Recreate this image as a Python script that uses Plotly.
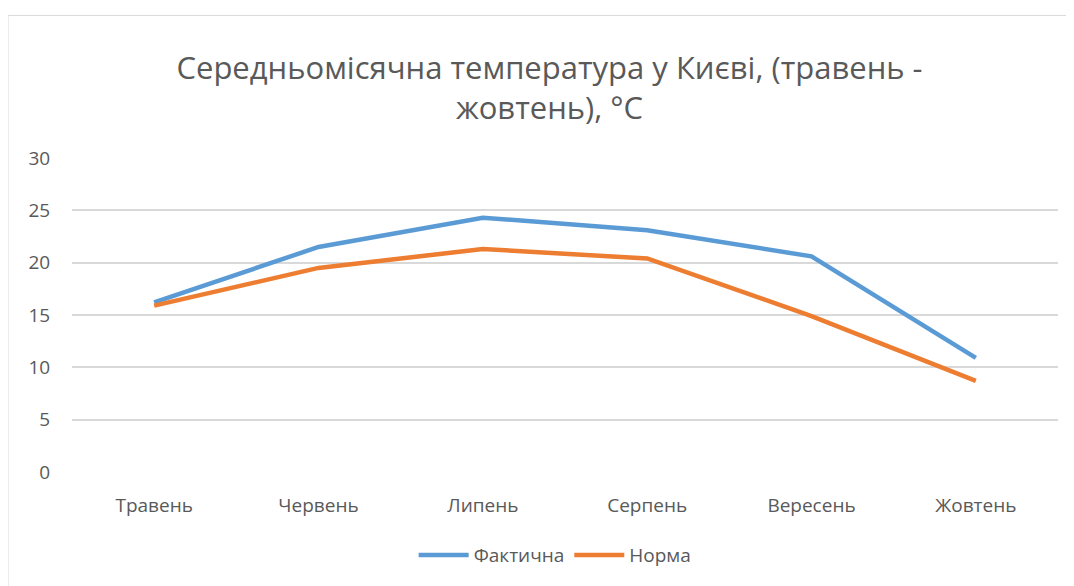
import plotly.graph_objects as go

# Дані з графіка
months = ['Травень', 'Червень', 'Липень', 'Серпень', 'Вересень', 'Жовтень']
actual = [16.2, 21.5, 24.3, 23.1, 20.6, 10.9]
normal = [15.9, 19.5, 21.3, 20.4, 14.9, 8.7]
y_ticks = [0, 5, 10, 15, 20, 25, 30]

text_color = '#595959'
font_family = 'Open Sans, Noto Sans, sans-serif'

fig = go.Figure()
fig.add_trace(go.Scatter(
    x=months, y=actual, mode='lines', name='Фактична',
    line=dict(color='#5B9BD5', width=4.5)
))
fig.add_trace(go.Scatter(
    x=months, y=normal, mode='lines', name='Норма',
    line=dict(color='#ED7D31', width=4.5)
))

# рамка навколо області діаграми
fig.add_shape(
    type='rect', xref='paper', yref='paper',
    x0=-0.0649, x1=1.03, y0=-0.4, y1=1.454,
    line=dict(color='#D9D9D9', width=1), layer='below'
)

# сторінка має відступ 8px, тому фігура менша на 8px
fig.update_layout(
    width=1066, height=578,
    margin=dict(l=64, r=16, t=150, b=111),
    paper_bgcolor='white', plot_bgcolor='white',
    font=dict(family=font_family, color=text_color, size=19),
    title=dict(
        text='Середньомісячна температура у Києві, (травень -<br>жовтень), °C',
        x=0.508, xanchor='center', y=0.877, yanchor='middle',
        font=dict(size=31, color=text_color, family=font_family)
    ),
    showlegend=True,
    legend=dict(
        orientation='h', x=0.49, xanchor='center', y=-0.265, yanchor='middle',
        font=dict(size=19, color=text_color), itemwidth=50
    ),
    xaxis=dict(
        range=[-0.5, 5.5], automargin=False,
        showgrid=False, showline=False, zeroline=False,
        ticks='outside', ticklen=16, tickcolor='rgba(0,0,0,0)',
        tickfont=dict(size=19, color=text_color)
    ),
    yaxis=dict(
        range=[0, 30], tickvals=y_ticks, automargin=False,
        showgrid=True, gridcolor='#D9D9D9',
        gridwidth=1.5, zeroline=False, showline=False,
        ticks='outside', ticklen=17, tickcolor='rgba(0,0,0,0)',
        tickfont=dict(size=19, color=text_color)
    )
)

fig.write_html('out.html')
